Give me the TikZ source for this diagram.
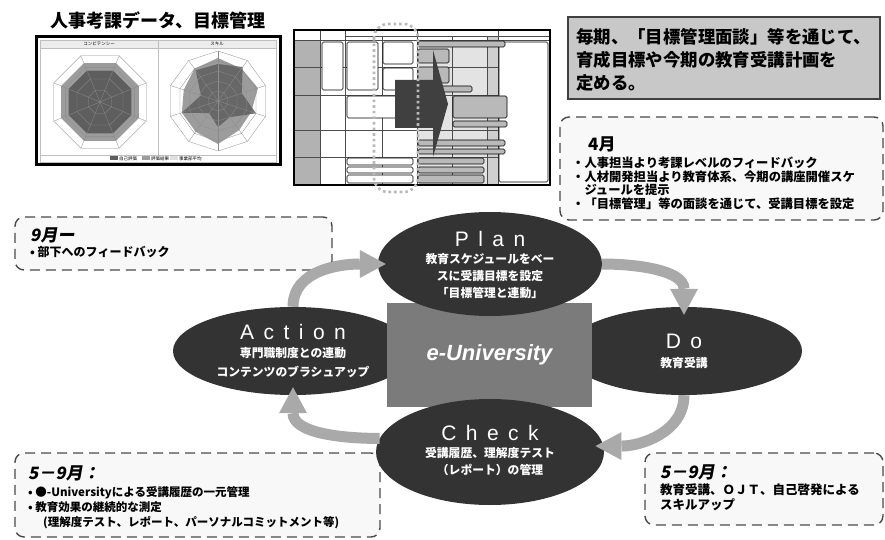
\documentclass[tikz,border=0pt]{standalone}
\usepackage{fontspec}
\setmainfont{Noto Sans CJK JP}
\newfontfamily\slantfont{Noto Sans CJK JP}[FakeSlant=0.18]
\newfontfamily\widefont{Liberation Sans}[LetterSpace=45]
\newfontfamily\arialfont{Liberation Sans}
\usetikzlibrary{shapes.geometric,arrows.meta}
\definecolor{phasedark}{HTML}{333333}
\definecolor{coregray}{HTML}{7B7B7B}
\definecolor{flowgray}{HTML}{A9A9A9}
\definecolor{noteline}{HTML}{4A4A4A}
\definecolor{notefill}{HTML}{F8F8F8}
\definecolor{goalfill}{HTML}{C8C8C8}
\definecolor{chartdark}{HTML}{5E5E5E}
\definecolor{chartmid}{HTML}{9C9C9C}
\begin{document}
\begin{tikzpicture}[x=1pt,y=-1pt,
  phase/.style={ellipse,fill=phasedark,inner sep=0pt},
  phasetext/.style={text=white,inner sep=0pt,align=center,font=\bfseries\fontsize{11.8}{17}\selectfont},
  flow/.style={line width=11pt,draw=flowgray,shorten >=-8pt,-{Triangle[length=26pt,width=28pt,line width=0pt]}},
  note/.style={draw=noteline,fill=notefill,line width=1.4pt,dash pattern=on 10pt off 6pt,rounded corners=9pt},
  notehead/.style={anchor=west,inner sep=0pt,font=\slantfont\bfseries\fontsize{17}{20}\selectfont},
  notetext/.style={anchor=west,inner sep=0pt,align=left,font=\bfseries\fontsize{12}{14}\selectfont},
  chartgrid/.style={draw=black!45,line width=0.3pt},
  tinytext/.style={inner sep=0pt,font=\fontsize{4.5}{5}\selectfont},
  boxline/.style={draw=black,line width=0.6pt,rounded corners=1.5pt}]
\fill[white] (0,0) rectangle (885,540);
\useasboundingbox (0,0) rectangle (885,540);

\node[font=\bfseries\fontsize{18}{20}\selectfont] (hrtitle) at (158,20) {人事考課データ、目標管理};

\draw[line width=3pt,fill=white] (36,37) rectangle (280,165);
\fill[gray!15] (40,40) rectangle (276,48);
\draw[gray!50,line width=0.4pt] (40,40) rectangle (276,162) (40,48) -- (276,48) (158,40) -- (158,155) (40,155) -- (276,155);
\node[tinytext] (comphead) at (99,44) {コンピテンシー};
\node[tinytext] (skillhead) at (217,44) {スキル};
\fill[chartdark] (110,156.5) rectangle (118,160.5);
\node[tinytext,anchor=west] (legself) at (119,158.5) {自己評価};
\fill[chartmid] (142,156.5) rectangle (150,160.5);
\node[tinytext,anchor=west] (legrate) at (151,158.5) {評価結果};
\fill[gray!25] (170,156.5) rectangle (178,160.5);
\node[tinytext,anchor=west] (legavg) at (179,158.5) {事業部平均};
\begin{scope}[shift={(100,102)}]
  \fill[chartmid] (22.5:42) \foreach \k in {1,...,7}{ -- (22.5+45*\k:42)} -- cycle;
  \fill[chartdark] (22.5:34) \foreach \k in {1,...,7}{ -- (22.5+45*\k:34)} -- cycle;
  \foreach \r in {12.5,25,37.5,50}
    \draw[chartgrid] (22.5:\r) \foreach \k in {1,...,7}{ -- (22.5+45*\k:\r)} -- cycle;
  \foreach \k in {0,...,7} \draw[chartgrid] (0,0) -- (22.5+45*\k:50);
\end{scope}
\begin{scope}[shift={(218,101)}]
  \fill[chartmid] (-90:43) \foreach \v [count=\k] in {40,42,35,36,43,38,38,36,40}{ -- (-90+36*\k:\v)} -- cycle;
  \fill[chartdark,opacity=0.85] (-90:37) \foreach \v [count=\k] in {42,25,40,20,26,15,38,18,38}{ -- (-90+36*\k:\v)} -- cycle;
  \foreach \r in {10,20,30,40,50}
    \draw[chartgrid] (-90:\r) \foreach \k in {1,...,9}{ -- (-90+36*\k:\r)} -- cycle;
  \foreach \k in {0,...,9} \draw[chartgrid] (0,0) -- (-90+36*\k:50);
\end{scope}

\draw[line width=1.2pt,fill=white] (294,30) rectangle (550,185);
\fill[gray!22] (417,40) rectangle (487,185);
\fill[gray!38] (487,36) rectangle (498,185);
\fill[gray!60] (294,40) rectangle (320,185);
\draw[black!70,line width=0.5pt] (294,40) -- (550,40) (345,36) -- (550,36)
  (294,67) -- (498,67) (294,95) -- (498,95) (294,130) -- (498,130) (294,157) -- (498,157)
  (320,30) -- (320,185) (345,30) -- (345,185) (382,36) -- (382,185) (417,30) -- (417,185)
  (452,36) -- (452,185) (487,36) -- (487,185) (498,30) -- (498,185);
\draw[line width=1.2pt] (294,30) rectangle (550,185);
\draw[boxline,fill=white] (322,42) rectangle (343,90) (347,42) rectangle (378,90)
  (383,42) rectangle (413,64) (383,68) rectangle (413,90) (347,96) rectangle (398,118)
  (347,158) rectangle (413,165) (347,167) rectangle (413,173) (347,175) rectangle (413,183)
  (499,42) rectangle (548,182);
\draw[boxline,fill=gray!55] (418,41) rectangle (505,47) (418,49) rectangle (449,63)
  (418,67) rectangle (449,83) (432,86) rectangle (472,92) (453,96) rectangle (507,118)
  (453,121) rectangle (507,127) (418,140) rectangle (505,146) (418,149) rectangle (505,154)
  (418,158) rectangle (484,164) (418,167) rectangle (484,173) (418,175) rectangle (484,183);
\fill[gray!50!black] (395,80) -- (433,80) -- (433,50) -- (448,104) -- (433,157) -- (433,128) -- (395,128) -- cycle;
\draw[gray!55,line width=2.6pt,dash pattern=on 2.6pt off 3pt,rounded corners=14pt] (374,24) rectangle (418,192);

\node[draw=black!75,fill=goalfill,line width=1.2pt,minimum width=312pt,minimum height=82pt] (goalbox) at (724,58) {};
\node[anchor=west,inner sep=0pt,align=left,font=\bfseries\fontsize{17.4}{23}\selectfont] (goaltext) at (576,60)
  {毎期、「目標管理面談」等を通じて、\\育成目標や今期の教育受講計画を\\定める。};

\node[note,minimum width=323pt,minimum height=103pt] (aprbox) at (721.5,168.5) {};
\node[notehead,font=\bfseries\fontsize{17}{20}\selectfont] (aprhead) at (588,144) {4月};
\node[notetext,font=\bfseries\fontsize{12.3}{13.7}\selectfont] (aprtext) at (572,183.5)
  {・人事担当より考課レベルのフィードバック\\・人材開発担当より教育体系、今期の講座開催スケ\\\phantom{・}ジュールを提示\\・「目標管理」等の面談を通じて、受講目標を設定};

\node[note,minimum width=317pt,minimum height=53pt] (sepbox) at (173.5,243.5) {};
\node[notehead] (sephead) at (30,235) {9月ー};
\node[notetext] (septext) at (30,252) {• 部下へのフィードバック};

\node[note,minimum width=365pt,minimum height=84pt] (chkbox) at (197.5,495) {};
\node[notehead] (chkhead) at (28,473) {5－9月：};
\node[notetext,font=\bfseries\fontsize{11.5}{15}\selectfont] (chktext) at (28,508)
  {• ●-Universityによる受講履歴の一元管理\\• 教育効果の継続的な測定\\\hspace*{15pt}(理解度テスト、レポート、パーソナルコミットメント等)};

\node[note,minimum width=238pt,minimum height=72pt] (dobox) at (764,489) {};
\node[notehead] (dohead) at (660,472) {5－9月：};
\node[notetext,font=\bfseries\fontsize{12.5}{15}\selectfont] (dotext) at (660,497.5)
  {教育受講、ＯＪＴ、自己啓発による\\スキルアップ};

\node[phase,minimum width=240pt,minimum height=88pt] (action) at (293,351) {};
\node[phase,minimum width=236pt,minimum height=88pt] (do) at (684,351) {};
\node[fill=coregray,minimum width=205pt,minimum height=104pt] (core) at (489.5,355)
  {\color{white}\arialfont\bfseries\itshape\fontsize{22}{22}\selectfont e-University};
\node[phase,minimum width=224pt,minimum height=104pt] (plan) at (490,264) {};
\node[phase,minimum width=228pt,minimum height=106pt] (check) at (490,452) {};

\node[phasetext] (plantext) at (490,265) {{\widefont\mdseries\fontsize{21}{21}\selectfont Plan}\\教育スケジュールをベー\\スに受講目標を設定\\「目標管理と連動」};
\node[phasetext,font=\bfseries\fontsize{11.8}{18.5}\selectfont] (actiontext) at (293,351) {{\widefont\mdseries\fontsize{21}{21}\selectfont Action}\\専門職制度との連動\\コンテンツのブラシュアップ};
\node[phasetext,font=\bfseries\fontsize{11.8}{19}\selectfont] (dotext2) at (684,351) {{\widefont\mdseries\fontsize{21}{21}\selectfont Do}\\教育受講};
\node[phasetext] (checktext) at (490,450) {{\widefont\mdseries\fontsize{21}{21}\selectfont Check}\\受講履歴、理解度テスト\\（レポート）の管理};

\draw[flow] (action.north) to[out=90,in=180] (plan.west);
\draw[flow] (plan.east) to[out=0,in=90] (do.north);
\draw[flow] (do.south) to[out=-90,in=0] (check.3);
\draw[flow] (check.173) to[out=180,in=-90] (action.south);
\end{tikzpicture}
\end{document}
